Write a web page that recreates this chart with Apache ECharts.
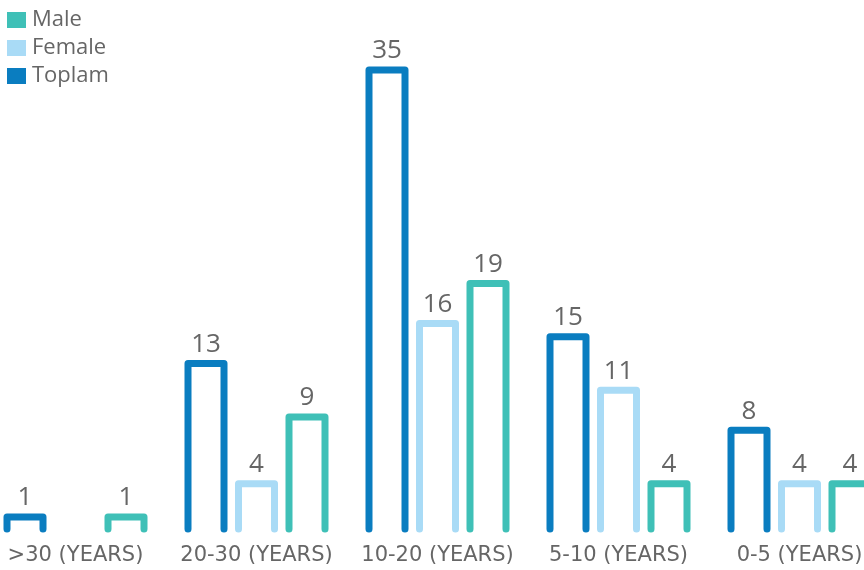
<!DOCTYPE html>
<html>
<head>
<meta charset="utf-8">
<script src="https://cdn.jsdelivr.net/npm/echarts@6/dist/echarts.min.js"></script>
<style>
html,body{margin:0;padding:0;background:#fff;}
#chart{width:864px;height:570px;}
</style>
</head>
<body>
<div id="chart"></div>
<script>
const categories = ['>30 (YEARS)', '20-30 (YEARS)', '10-20 (YEARS)', '5-10 (YEARS)', '0-5 (YEARS)'];
const toplam = [1, 13, 35, 15, 8];
const female = [null, 4, 16, 11, 4];
const male = [1, 9, 19, 4, 4];

const colors = { Toplam: '#0A7DC0', Female: '#A9DBF6', Male: '#3FC0B7' };
const labelColor = '#666666';
const FONT = '"Open Sans", "DejaVu Sans", sans-serif';
const AXISFONT = '"DejaVu Sans", sans-serif';

function makeRender(offsetFrac, color) {
  return function (params, api) {
    const ci = api.value(0);
    const v = api.value(1);
    const base = api.coord([ci, 0]);
    const top = api.coord([ci, v]);
    const bw = api.size([1, 0])[0];
    const s = bw / 181;
    const cx = base[0] + offsetFrac * bw;
    const hw = 18 * s;
    const ty = Math.min(top[1], base[1] - 20);
    const by = base[1] - 8;
    return {
      type: 'group',
      children: [
        {
          type: 'polyline',
          shape: { points: [[cx - hw, by], [cx - hw, ty], [cx + hw, ty], [cx + hw, by]] },
          style: { stroke: color, lineWidth: 7, fill: null, lineCap: 'round', lineJoin: 'round' }
        },
        {
          type: 'text',
          style: {
            text: String(v), x: cx, y: ty - 19, align: 'center', verticalAlign: 'middle',
            fill: labelColor, fontSize: 26, fontWeight: 500, fontFamily: FONT
          }
        }
      ]
    };
  };
}

function toData(arr) {
  const out = [];
  arr.forEach((v, i) => { if (v !== null && v !== undefined) out.push([i, v]); });
  return out;
}

const chart = echarts.init(document.getElementById('chart'), null, { renderer: 'canvas' });
chart.setOption({
  animation: false,
  backgroundColor: '#ffffff',
  legend: {
    orient: 'vertical',
    left: 7,
    top: 9,
    padding: 0,
    itemWidth: 19,
    itemHeight: 16,
    itemGap: 6,
    icon: 'rect',
    data: ['Male', 'Female', 'Toplam'],
    textStyle: { color: labelColor, fontSize: 22, fontWeight: 500, fontFamily: FONT, padding: [0, 0, 0, 1] }
  },
  grid: { left: -15, right: -26, top: 70, bottom: 33, containLabel: false, outerBoundsMode: 'none' },
  xAxis: {
    type: 'category',
    data: categories,
    axisLine: { show: false },
    axisTick: { show: false },
    axisLabel: { color: labelColor, fontSize: 21, fontFamily: AXISFONT, margin: 8, interval: 0 }
  },
  yAxis: {
    type: 'value', min: 0, max: 35, show: false, splitLine: { show: false }
  },
  series: [
    { name: 'Toplam', type: 'custom', itemStyle: { color: colors.Toplam }, renderItem: makeRender(-50.5 / 181, colors.Toplam), data: toData(toplam), encode: { x: 0, y: 1 } },
    { name: 'Female', type: 'custom', itemStyle: { color: colors.Female }, renderItem: makeRender(0, colors.Female), data: toData(female), encode: { x: 0, y: 1 } },
    { name: 'Male', type: 'custom', itemStyle: { color: colors.Male }, renderItem: makeRender(50.5 / 181, colors.Male), data: toData(male), encode: { x: 0, y: 1 } }
  ]
});
</script>
</body>
</html>
